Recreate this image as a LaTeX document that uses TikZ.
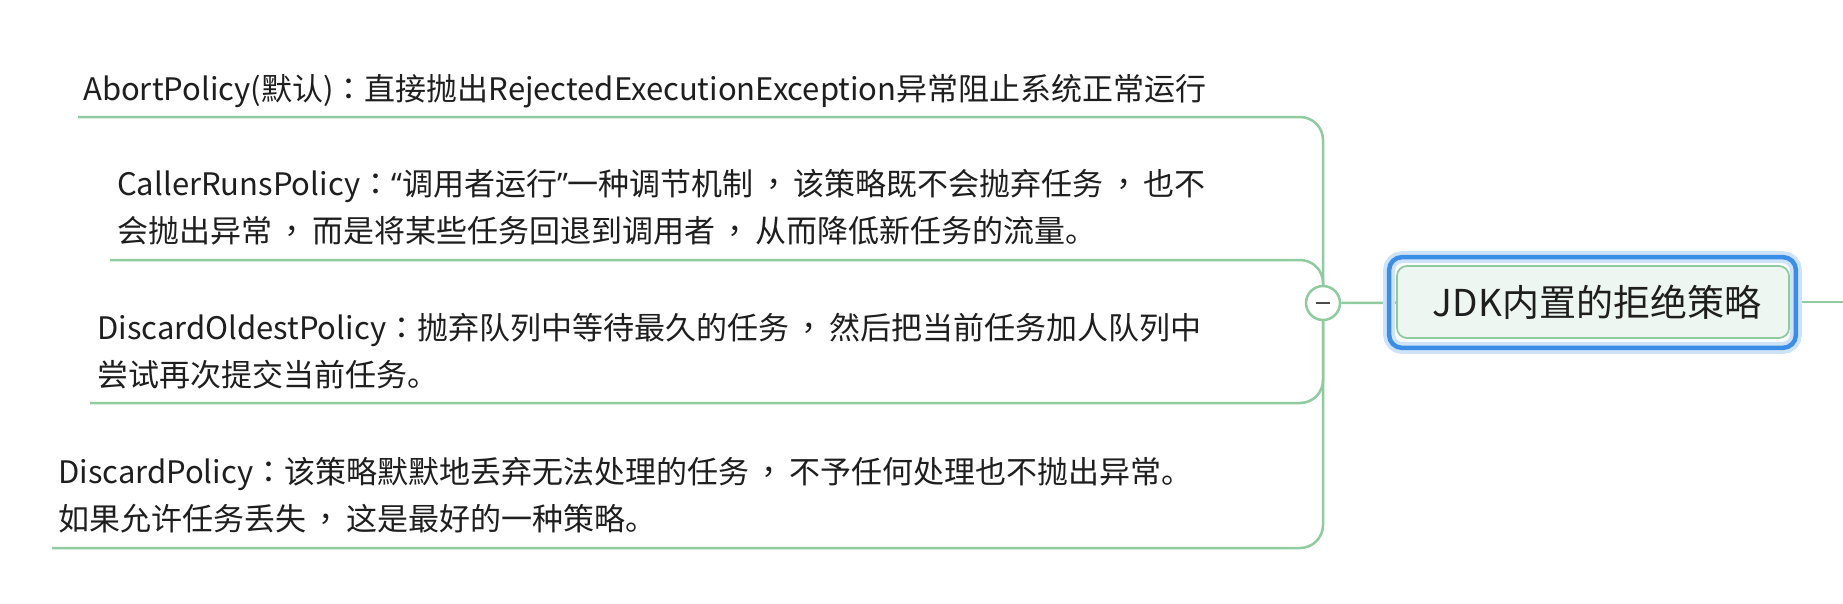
\documentclass[tikz,border=0pt]{standalone}
\usepackage{fontspec}
\setmainfont{Noto Sans CJK SC}
\newfontfamily\tcf{Noto Sans CJK TC}
\newfontfamily\qf{Open Sans}
\newcommand\cc{{\tcf ：}}
\newcommand\cm{\hspace{4.5pt}{\tcf ，}\hspace{4.5pt}}
\usetikzlibrary{backgrounds}
\definecolor{lgreen}{HTML}{8FCB9E}
\definecolor{txt}{HTML}{1E1E1E}
\definecolor{rootfill}{HTML}{EEF6F1}
\definecolor{fblue}{HTML}{3A8EE6}
\definecolor{halo}{HTML}{CFE3F8}
\begin{document}
\begin{tikzpicture}[x=1pt,y=-1pt,
  leaf/.style={anchor=base west, inner sep=0pt, text=txt, font=\fontsize{31}{47}\selectfont},
  branch/.style={draw=lgreen, line width=2.5pt, rounded corners=23pt},
  hubnode/.style={circle, draw=lgreen, line width=2.5pt, fill=white, minimum size=34pt, inner sep=0pt},
  rootnode/.style={rectangle, rounded corners=10pt, draw=lgreen, line width=1.8pt, fill=rootfill,
    minimum width=392pt, minimum height=72pt, inner sep=0pt, text=txt, font=\fontsize{37}{40}\selectfont},
  frame/.style={rounded corners=13pt}
]
\useasboundingbox (0,0) rectangle (1843,603);

% texts
\node[leaf] (t1) at (83,100) {AbortPolicy(默认)\cc 直接抛出RejectedExecutionException异常阻止系统正常运行};
\node[leaf] (t2) at (117,242) {\begin{tabular}[b]{@{}l@{}}CallerRunsPolicy\cc{\qf “}调用者运行{\qf ”}一种调节机制\cm 该策略既不会抛弃任务\cm 也不\\会抛出异常\cm 而是将某些任务回退到调用者\cm 从而降低新任务的流量。\end{tabular}};
\node[leaf] (t3) at (97,386) {\begin{tabular}[b]{@{}l@{}}DiscardOldestPolicy\cc 抛弃队列中等待最久的任务\cm 然后把当前任务加人队列中\\尝试再次提交当前任务。\end{tabular}};
\node[leaf] (t4) at (58,530) {\begin{tabular}[b]{@{}l@{}}DiscardPolicy\cc 该策略默默地丢弃无法处理的任务\cm 不予任何处理也不抛出异常。\\如果允许任务丢失\cm 这是最好的一种策略。\end{tabular}};

\coordinate (u1) at (78,117);
\coordinate (u2) at (110,260);
\coordinate (u3) at (90,403);
\coordinate (u4) at (52,548);
\coordinate (rend) at (1843,302);

\node[hubnode] (hub) at (1323,303) {};
\draw[line width=2.5pt, color=txt!80] ([xshift=-7pt]hub.center) -- ([xshift=7pt]hub.center);

\node[rootnode] (root) at (1593,302) {\hspace*{8pt}JDK内置的拒绝策略};

\begin{pgfonlayer}{background}
  \draw[branch] (hub.center) |- (u1);
  \draw[branch] (hub.center) |- (u2);
  \draw[branch] (hub.center) |- (u3);
  \draw[branch] (hub.center) |- (u4);
  \draw[draw=lgreen, line width=2.5pt] (hub) -- (root);
  \draw[draw=lgreen, line width=2.5pt] (root) -- (rend);
  \draw[frame, draw=halo, line width=12pt] ([shift={(-7pt,8pt)}]root.north west) rectangle ([shift={(6pt,-9pt)}]root.south east);
  \draw[frame, draw=fblue, line width=4.5pt] ([shift={(-7pt,8pt)}]root.north west) rectangle ([shift={(6pt,-9pt)}]root.south east);
\end{pgfonlayer}
\end{tikzpicture}
\end{document}
